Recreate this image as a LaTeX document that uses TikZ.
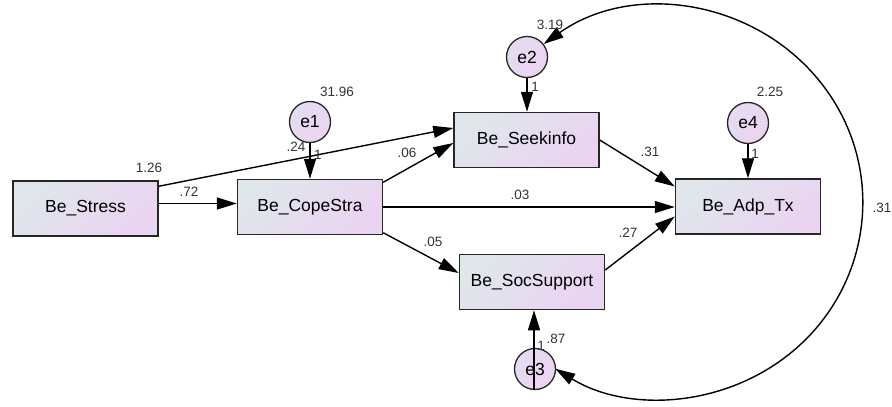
\documentclass[tikz,border=0pt]{standalone}
\usepackage{fontspec}
\setmainfont{Liberation Sans}
\usetikzlibrary{arrows.meta}
\definecolor{boxA}{HTML}{DFE7EB}
\definecolor{boxB}{HTML}{EBD3F2}
\definecolor{errA}{HTML}{E3DDF0}
\definecolor{errB}{HTML}{ECD3F2}
\definecolor{lbl}{HTML}{333333}
\begin{document}
\begin{tikzpicture}[x=1pt,y=-1pt,
  var/.style={draw=black!85, line width=1.5pt, minimum width=145pt, minimum height=55pt,
    inner sep=0pt, top color=boxA, bottom color=boxB, shading angle=45,
    font=\fontsize{17.5}{20}\selectfont},
  err/.style={circle, draw=black!85, line width=1.3pt, minimum size=41pt, inner sep=0pt,
    top color=errA, bottom color=errB, shading angle=45,
    font=\fontsize{17.5}{20}\selectfont},
  tip/.tip={Triangle[length=20pt,width=12pt]},
  reg/.style={-tip, line width=1.4pt},
  cov/.style={tip-tip, line width=1.4pt},
  est/.style={font=\fontsize{13.5}{15}\selectfont, text=lbl, inner sep=0pt}
]
\useasboundingbox[fill=white] (0,0) rectangle (892,407);

% observed variables
\node[var] (stress) at (85.5,208.5) {Be\_Stress};
\node[var] (cope)   at (310,207)    {Be\_CopeStra};
\node[var] (seek)   at (526.5,140)  {Be\_Seekinfo};
\node[var] (soc)    at (532,282)    {Be\_SocSupport};
\node[var] (adp)    at (748,206.5)  {Be\_Adp\_Tx};

% error terms
\node[err] (e1) at (310,122) {e1};
\node[err] (e2) at (527,57)  {e2};
\node[err] (e4) at (748,123) {e4};
\node[err] (e3) at (535,369) {e3};

% regression paths
\draw[reg] ([yshift=5pt]stress.east) -- ([yshift=5pt]stress.east -| cope.west);
\draw[reg] ([yshift=-6pt]stress.north east) -- ([yshift=12pt]seek.west);
\draw[reg] ([yshift=-3.5pt]cope.north east) -- ([yshift=-3pt]seek.west);
\draw[reg] (cope.east) -- (cope.east -| adp.west);
\draw[reg] ([yshift=2.5pt]cope.south east) -- ([yshift=9pt]soc.west);
\draw[reg] (seek.east) -- ([yshift=20pt]adp.west);
\draw[reg] ([yshift=12pt]soc.east) -- ([yshift=-10pt]adp.west);

% error paths
\draw[reg] (e1) -- (cope);
\draw[reg] (e2.south) -- (e2.south |- seek.north);
\draw[reg] (e4) -- (adp);
\draw[reg] ([xshift=-1pt]e3.south) -- ([xshift=-1pt]e3.south |- soc.south);

% covariance between e2 and e3
\draw[cov] (e2.38) arc[start angle=-126, end angle=122, x radius=201, y radius=196];

% estimates
\node[est] at (149,168) {1.26};
\node[est] at (189,192) {.72};
\node[est] at (337,92)  {31.96};
\node[est] at (296,147) {.24};
\node[est] at (318,155) {1};
\node[est] at (407,153) {.06};
\node[est] at (550,25)  {3.19};
\node[est] at (535,87)  {1};
\node[est] at (770,92)  {2.25};
\node[est] at (755,154) {1};
\node[est] at (650,152) {.31};
\node[est] at (520,195) {.03};
\node[est] at (433,242) {.05};
\node[est] at (628,233) {.27};
\node[est] at (541,346) {1};
\node[est] at (556,339) {.87};
\node[est] at (882,208) {.31};
\end{tikzpicture}
\end{document}
